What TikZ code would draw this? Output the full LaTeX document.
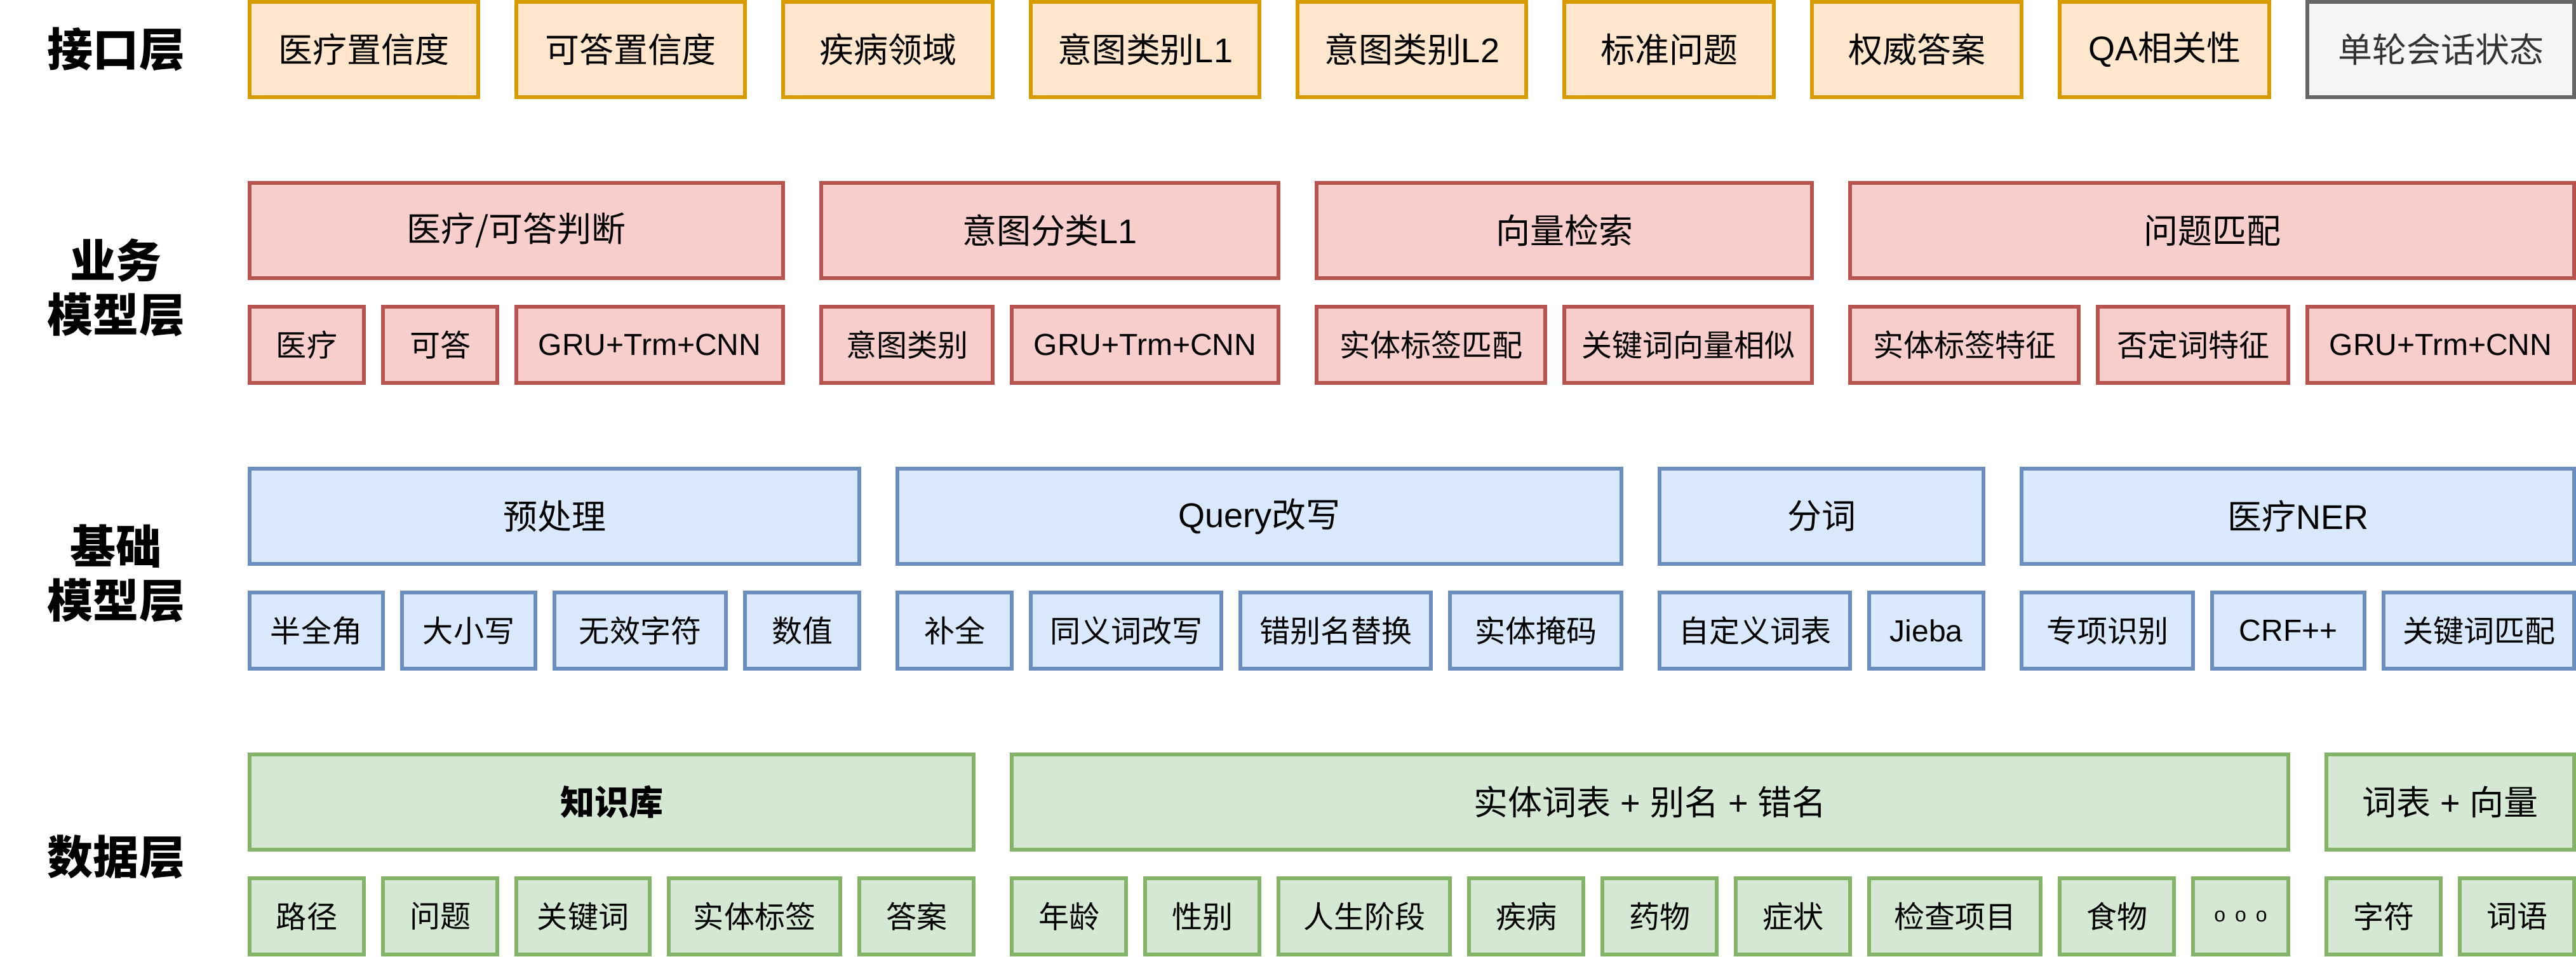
\documentclass[tikz,border=0pt]{standalone}
\usepackage{fontspec}
\setmainfont{Noto Sans CJK SC}
\newfontfamily\latinfont{Liberation Sans}
\newcommand{\lat}[1]{{\latinfont #1}}
\usepackage{xcolor}
\usetikzlibrary{positioning}

\definecolor{apiF}{HTML}{FFE6CC}\definecolor{apiD}{HTML}{D79B00}
\definecolor{svcF}{HTML}{F8CECC}\definecolor{svcD}{HTML}{B85450}
\definecolor{basF}{HTML}{DAE8FC}\definecolor{basD}{HTML}{6C8EBF}
\definecolor{datF}{HTML}{D5E8D4}\definecolor{datD}{HTML}{82B366}
\definecolor{gryF}{HTML}{F5F5F5}\definecolor{gryD}{HTML}{666666}
\definecolor{gryT}{HTML}{333333}

\begin{document}
\begin{tikzpicture}[
  x=0.03cm,y=-0.03cm,
  bx/.style={rectangle,line width=0.06cm,inner sep=0pt,outer sep=0pt},
  hi/.style={bx,minimum height=1.5cm,font=\fontsize{15.36pt}{18pt}\selectfont},
  lo/.style={bx,minimum height=1.2cm,font=\fontsize{13.66pt}{16pt}\selectfont},
  wd/.style={minimum width=#1*0.03cm},
  api/.style={fill=apiF,draw=apiD},
  gry/.style={fill=gryF,draw=gryD,text=gryT},
  svc/.style={fill=svcF,draw=svcD},
  bas/.style={fill=basF,draw=basD},
  dat/.style={fill=datF,draw=datD},
  lb/.style={align=center,font=\fontsize{20.49pt}{24pt}\selectfont\bfseries}
]
\useasboundingbox (1,0) rectangle (1353,502);

%--- layer names ---
\node[lb] (l1) at (62,26) {接口层};
\node[lb] (l2) at (62,151) {业务\\模型层};
\node[lb] (l3) at (62,301) {基础\\模型层};
\node[lb] (l4) at (62,450) {数据层};

%--- interface layer ---
\node[hi,api,wd=120,anchor=west] (i1) at (132,26) {医疗置信度};
\node[hi,api,wd=120,right=0.6cm of i1] (i2) {可答置信度};
\node[hi,api,wd=110,right=0.6cm of i2] (i3) {疾病领域};
\node[hi,api,wd=120,right=0.6cm of i3] (i4) {意图类别\lat{L1}};
\node[hi,api,wd=120,right=0.6cm of i4] (i5) {意图类别\lat{L2}};
\node[hi,api,wd=110,right=0.6cm of i5] (i6) {标准问题};
\node[hi,api,wd=110,right=0.6cm of i6] (i7) {权威答案};
\node[hi,api,wd=110,right=0.6cm of i7] (i8) {\lat{QA}相关性};
\node[hi,gry,wd=140,right=0.6cm of i8] (i9) {单轮会话状态};

%--- business model layer ---
\node[hi,svc,wd=280,anchor=west] (s1) at (132,121) {医疗/可答判断};
\node[hi,svc,wd=240,right=0.6cm of s1] (s2) {意图分类\lat{L1}};
\node[hi,svc,wd=260,right=0.6cm of s2] (s3) {向量检索};
\node[hi,svc,wd=380,right=0.6cm of s3] (s4) {问题匹配};
\node[lo,svc,wd=60,anchor=west] (s11) at (132,181) {医疗};
\node[lo,svc,wd=60,right=0.3cm of s11] (s12) {可答};
\node[lo,svc,wd=140,right=0.3cm of s12] (s13) {\lat{GRU+Trm+CNN}};
\node[lo,svc,wd=90,right=0.6cm of s13] (s21) {意图类别};
\node[lo,svc,wd=140,right=0.3cm of s21] (s22) {\lat{GRU+Trm+CNN}};
\node[lo,svc,wd=120,right=0.6cm of s22] (s31) {实体标签匹配};
\node[lo,svc,wd=130,right=0.3cm of s31] (s32) {关键词向量相似};
\node[lo,svc,wd=120,right=0.6cm of s32] (s41) {实体标签特征};
\node[lo,svc,wd=100,right=0.3cm of s41] (s42) {否定词特征};
\node[lo,svc,wd=140,right=0.3cm of s42] (s43) {\lat{GRU+Trm+CNN}};

%--- base model layer ---
\node[hi,bas,wd=320,anchor=west] (b1) at (132,271) {预处理};
\node[hi,bas,wd=380,right=0.6cm of b1] (b2) {\lat{Query}改写};
\node[hi,bas,wd=170,right=0.6cm of b2] (b3) {分词};
\node[hi,bas,wd=290,right=0.6cm of b3] (b4) {医疗\lat{NER}};
\node[lo,bas,wd=70,anchor=west] (b11) at (132,331) {半全角};
\node[lo,bas,wd=70,right=0.3cm of b11] (b12) {大小写};
\node[lo,bas,wd=90,right=0.3cm of b12] (b13) {无效字符};
\node[lo,bas,wd=60,right=0.3cm of b13] (b14) {数值};
\node[lo,bas,wd=60,right=0.6cm of b14] (b21) {补全};
\node[lo,bas,wd=100,right=0.3cm of b21] (b22) {同义词改写};
\node[lo,bas,wd=100,right=0.3cm of b22] (b23) {错别名替换};
\node[lo,bas,wd=90,right=0.3cm of b23] (b24) {实体掩码};
\node[lo,bas,wd=100,right=0.6cm of b24] (b31) {自定义词表};
\node[lo,bas,wd=60,right=0.3cm of b31] (b32) {\lat{Jieba}};
\node[lo,bas,wd=90,right=0.6cm of b32] (b41) {专项识别};
\node[lo,bas,wd=80,right=0.3cm of b41] (b42) {\lat{CRF++}};
\node[lo,bas,wd=100,right=0.3cm of b42] (b43) {关键词匹配};

%--- data layer ---
\node[hi,dat,wd=380,anchor=west] (d1) at (132,421) {\bfseries 知识库};
\node[hi,dat,wd=670,right=0.6cm of d1] (d2) {实体词表\lat{ + }别名\lat{ + }错名};
\node[hi,dat,wd=130,right=0.6cm of d2] (d3) {词表\lat{ + }向量};
\node[lo,dat,wd=60,anchor=west] (d11) at (132,481) {路径};
\node[lo,dat,wd=60,right=0.3cm of d11] (d12) {问题};
\node[lo,dat,wd=70,right=0.3cm of d12] (d13) {关键词};
\node[lo,dat,wd=90,right=0.3cm of d13] (d14) {实体标签};
\node[lo,dat,wd=60,right=0.3cm of d14] (d15) {答案};
\node[lo,dat,wd=60,right=0.6cm of d15] (d21) {年龄};
\node[lo,dat,wd=60,right=0.3cm of d21] (d22) {性别};
\node[lo,dat,wd=90,right=0.3cm of d22] (d23) {人生阶段};
\node[lo,dat,wd=60,right=0.3cm of d23] (d24) {疾病};
\node[lo,dat,wd=60,right=0.3cm of d24] (d25) {药物};
\node[lo,dat,wd=60,right=0.3cm of d25] (d26) {症状};
\node[lo,dat,wd=90,right=0.3cm of d26] (d27) {检查项目};
\node[lo,dat,wd=60,right=0.3cm of d27] (d28) {食物};
\node[lo,dat,wd=50,right=0.3cm of d28] (d29)
  {\fontsize{9.1pt}{11pt}\latinfont o\hspace{0.15cm}o\hspace{0.15cm}o};
\node[lo,dat,wd=60,right=0.6cm of d29] (d31) {字符};
\node[lo,dat,wd=60,right=0.3cm of d31] (d32) {词语};
\end{tikzpicture}
\end{document}
